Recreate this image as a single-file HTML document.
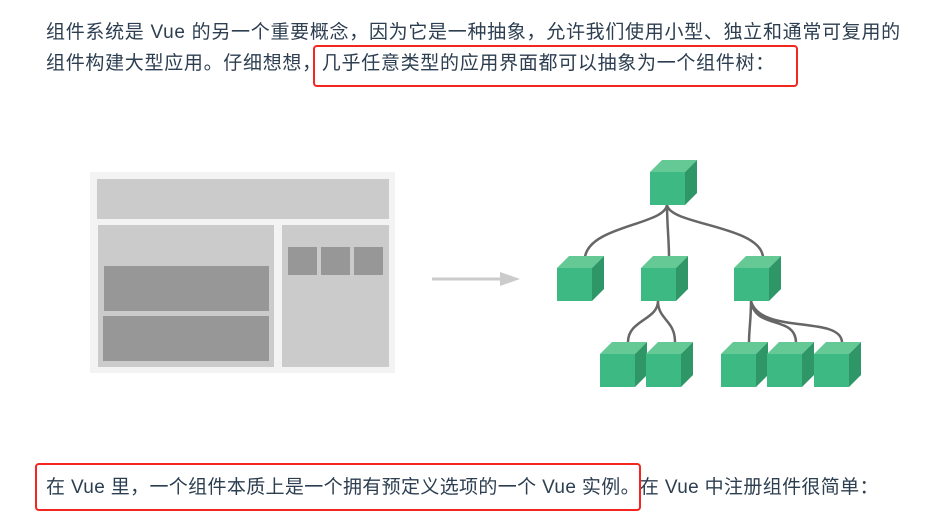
<!DOCTYPE html>
<html><head><meta charset="utf-8"><style>
*{margin:0;padding:0}
body{width:936px;height:518px;background:#fff;position:relative;overflow:hidden;font-family:"Liberation Sans","Noto Sans CJK SC",sans-serif;color:#2c3e50;font-size:19px}
.t{position:absolute;left:46px;white-space:nowrap;line-height:30px;letter-spacing:0.7px}
.box{position:absolute;border:2.5px solid #f5251f;border-radius:4px}
.r{position:absolute}
</style></head><body>
<div class="t" style="top:18px">组件系统是 Vue 的另一个重要概念，因为它是一种抽象，允许我们使用小型、独立和通常可复用的</div>
<div class="t" style="top:49px">组件构建大型应用。仔细想想，几乎任意类型的应用界面都可以抽象为一个组件树：</div>
<div class="box" style="left:313px;top:45px;width:481px;height:38px"></div>
<div class="t" style="top:473px;letter-spacing:0.35px">在 Vue 里，一个组件本质上是一个拥有预定义选项的一个 Vue 实例。在 Vue 中注册组件很简单：</div>
<div class="box" style="left:35px;top:463px;width:602px;height:44px"></div>

<div class="r" style="left:90px;top:172px;width:305px;height:201px;background:#f3f3f3"></div>
<div class="r" style="left:97px;top:179px;width:292px;height:40px;background:#cbcbcb"></div>
<div class="r" style="left:98px;top:225px;width:176px;height:142px;background:#cbcbcb"></div>
<div class="r" style="left:282px;top:225px;width:107px;height:142px;background:#cbcbcb"></div>
<div class="r" style="left:288px;top:247px;width:29px;height:28px;background:#979797"></div>
<div class="r" style="left:321px;top:247px;width:29px;height:28px;background:#979797"></div>
<div class="r" style="left:354px;top:247px;width:29px;height:28px;background:#979797"></div>
<div class="r" style="left:104px;top:266px;width:165px;height:45px;background:#979797"></div>
<div class="r" style="left:103px;top:316px;width:166px;height:45px;background:#979797"></div>

<svg class="r" style="left:0;top:0" width="936" height="518">
<line x1="432" y1="279" x2="502" y2="279" stroke="#cbcbcb" stroke-width="3"/>
<polygon points="500,272 520,279 500,286" fill="#cbcbcb"/>
<g fill="none" stroke="#666" stroke-width="2.5">
<path d="M667 204 C667 225 590 225 585 257 M667 204 C667 225 669 240 669 257 M667 204 C667 225 760 225 763 257"/>
<path d="M658 301 C658 320 628 320 628 342 M658 301 C658 320 675 320 675 342"/>
<path d="M751 301 C751 320 749 330 749 342 M751 301 C755 330 795 315 796 342 M751 301 C760 335 840 315 842 342"/>
</g>
<defs>
<g id="c">
<polygon points="0,12 12,0 47,0 35,12" fill="#65c995"/>
<polygon points="35,12 47,0 47,33 35,45" fill="#2f9767"/>
<rect x="0" y="12" width="35" height="33" fill="#3dba83"/>
</g>
</defs>
<use href="#c" x="650" y="160"/>
<use href="#c" x="557" y="256"/>
<use href="#c" x="641" y="256"/>
<use href="#c" x="734" y="256"/>
<use href="#c" x="600" y="342"/>
<use href="#c" x="646" y="342"/>
<use href="#c" x="721" y="342"/>
<use href="#c" x="767" y="342"/>
<use href="#c" x="814" y="342"/>
</svg>
</body></html>
